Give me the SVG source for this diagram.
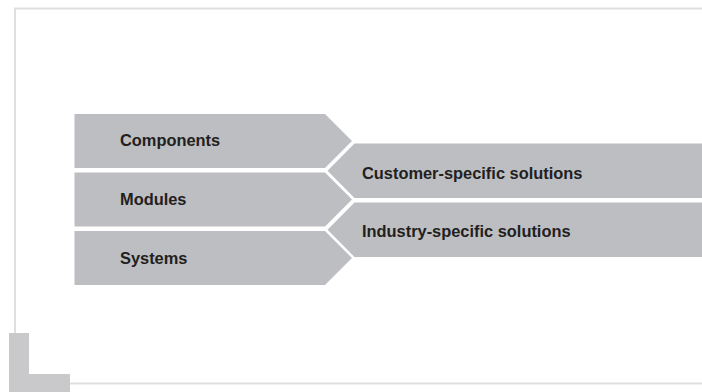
<svg xmlns="http://www.w3.org/2000/svg" width="702" height="392" viewBox="0 0 702 392">
<style>
.frame{fill:none;stroke:#dfdfdf;stroke-width:2}
.blk{fill:#c9c9cb}
.shape{fill:#bdbec2}
.lbl{font-family:"Liberation Sans",Arial,sans-serif;font-weight:bold;font-size:16.4px;fill:#231f20}
</style>
<rect width="702" height="392" fill="#ffffff"/>
<g id="frame">
<polyline class="frame" points="15,333 15,8.5 702,8.5"/>
<line class="frame" x1="69" y1="383.5" x2="702" y2="383.5"/>
<path class="blk" d="M9,333 H29 V374 H70 V392 H9 Z"/>
</g>
<g id="components">
<polygon class="shape" points="74.5,114 325,114 352,141 325,168 74.5,168"/>
<text class="lbl" x="120" y="146">Components</text>
</g>
<g id="modules">
<polygon class="shape" points="74.5,172.5 325,172.5 352,199.5 325,226.5 74.5,226.5"/>
<text class="lbl" x="120" y="204.5">Modules</text>
</g>
<g id="systems">
<polygon class="shape" points="74.5,231 325,231 352,258 325,285 74.5,285"/>
<text class="lbl" x="120" y="263.5">Systems</text>
</g>
<g id="customer">
<polygon class="shape" points="354.5,143.5 702,143.5 702,198 354.5,198 327.5,170.75"/>
<text class="lbl" x="362" y="178.7">Customer-specific solutions</text>
</g>
<g id="industry">
<polygon class="shape" points="354.5,202.5 702,202.5 702,257 354.5,257 327.5,229.75"/>
<text class="lbl" x="362" y="237.2">Industry-specific solutions</text>
</g>
<g id="connectors"></g>
</svg>
